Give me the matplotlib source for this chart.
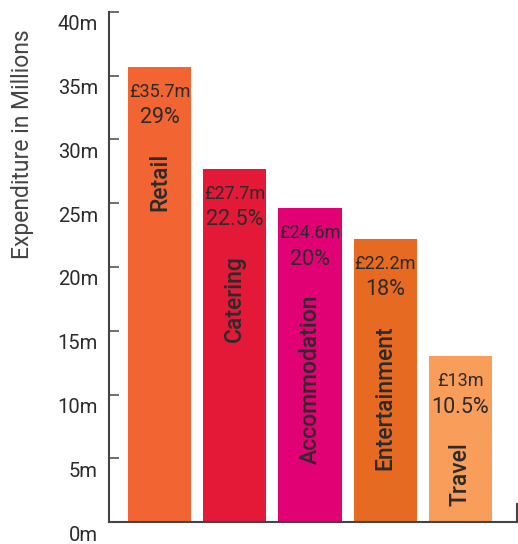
import matplotlib.pyplot as plt
import matplotlib.transforms as mtransforms
import numpy as np

categories = ['Retail', 'Catering', 'Accommodation', 'Entertainment', 'Travel']
spend = [35.7, 27.7, 24.6, 22.2, 13.0]
value_labels = ['£35.7m', '£27.7m', '£24.6m', '£22.2m', '£13m']
share_labels = ['29%', '22.5%', '20%', '18%', '10.5%']
ytick_vals = [0, 5, 10, 15, 20, 25, 30, 35, 40]
ytick_labels = ['0m', '5m', '10m', '15m', '20m', '25m', '30m', '35m', '40m']

colors = ['#F26532', '#E31937', '#E10174', '#E66A22', '#F99D5A']
txt = '#2b2b2b'

plt.rcParams['font.family'] = ['Roboto', 'DejaVu Sans']

fig = plt.figure(figsize=(5.18, 5.44), dpi=100)
ax = fig.add_axes([0.2104, 0.0404, 0.7876, 0.9376])

x = np.arange(len(categories))
ax.bar(x, spend, width=0.84, color=colors, zorder=2)

for i in range(len(categories)):
    ax.annotate(value_labels[i], (x[i], spend[i]), xytext=(0, -25),
                textcoords='offset pixels', ha='center', va='center',
                fontsize=13, color=txt)
    ax.annotate(share_labels[i], (x[i], spend[i]), xytext=(0, -51),
                textcoords='offset pixels', ha='center', va='center',
                fontsize=15.5, color=txt)
    ax.annotate(categories[i], (x[i], spend[i]), xytext=(0, -86),
                textcoords='offset pixels', ha='center', va='top',
                rotation=90, fontsize=16.5, fontweight='medium', color=txt)

ax.set_xlim(-0.673, 4.753)
ax.set_ylim(0, 40)
ax.set_xticks([])
ax.set_yticks(ytick_vals)
ax.set_yticklabels(ytick_labels, fontsize=14.5, color=txt)
ax.tick_params(axis='y', direction='in', length=7, width=1.2, color='#555555', pad=8)

shift = mtransforms.ScaledTranslation(0, -11 / 100, fig.dpi_scale_trans)
for lab in ax.get_yticklabels():
    lab.set_transform(lab.get_transform() + shift)

for s in ['left', 'bottom', 'right']:
    ax.spines[s].set_color('#444444')
    ax.spines[s].set_linewidth(1.5)
ax.spines['top'].set_visible(False)
ax.spines['right'].set_bounds(0, 1.4)

ax.set_ylabel('Expenditure in Millions', fontsize=16.5, color='#444444')
ax.yaxis.set_label_coords(-0.213, 0.74)
ax.yaxis.label.set_va('center')

fig.savefig('out.png', dpi=100)
